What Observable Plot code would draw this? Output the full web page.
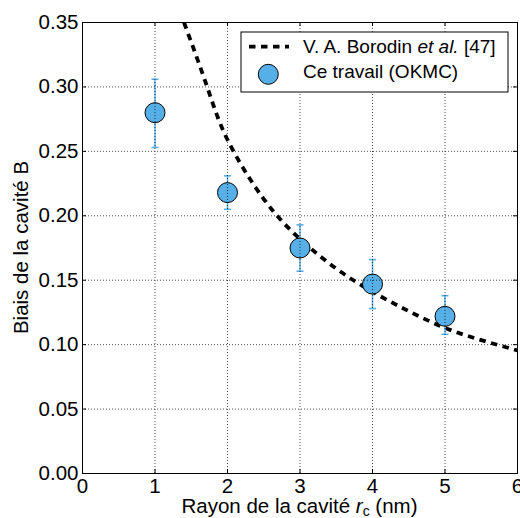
<!DOCTYPE html>
<html>
<head>
<meta charset="utf-8">
<script src="https://cdn.jsdelivr.net/npm/d3@7"></script>
<script src="https://cdn.jsdelivr.net/npm/@observablehq/plot@0.6"></script>
<style>
  html, body { margin: 0; padding: 0; background: white; }
</style>
</head>
<body>
<div id="chart"></div>
<script>
// ---- data ----
const xTicks = [0, 1, 2, 3, 4, 5, 6];
const yTicks = [0, 0.05, 0.10, 0.15, 0.20, 0.25, 0.30, 0.35];

// Ce travail (OKMC)
const radius = [1, 2, 3, 4, 5];
const bias = [0.280, 0.218, 0.175, 0.147, 0.122];
const biasLow = [0.253, 0.205, 0.157, 0.128, 0.108];
const biasHigh = [0.306, 0.231, 0.193, 0.166, 0.138];

// V. A. Borodin et al. [47]
const curveR = [1.40, 1.72, 2.0, 2.5, 3.0, 3.5, 4.0, 4.5, 5.0, 5.5, 6.0];
const curveB = [0.350, 0.300, 0.259, 0.213, 0.182, 0.159, 0.141, 0.126, 0.113, 0.1035, 0.0955];

const legendLabels = ["V. A. Borodin ", "et al.", " [47]", "Ce travail (OKMC)"];

// ---- build tables ----
const points = radius.map((r, i) => ({r, b: bias[i], lo: biasLow[i], hi: biasHigh[i]}));
const curve = curveR.map((r, i) => ({r, b: curveB[i]}));

const blue = "#56AFE6";
const font = "'Liberation Sans', Arial, Helvetica, sans-serif";
const W = 520, H = 518, mL = 82, mR = 3, mT = 22, mB = 45;
const innerW = W - mL - mR, innerH = H - mT - mB;

const capSymbol = {
  draw(ctx) { ctx.moveTo(-3.5, 0); ctx.lineTo(3.5, 0); }
};

const gridStyle = {stroke: "black", strokeOpacity: 0.7, strokeWidth: 1, strokeDasharray: "1,2"};

const chart = Plot.plot({
  width: W, height: H,
  marginLeft: mL, marginRight: mR, marginTop: mT, marginBottom: mB,
  style: {fontFamily: font, fontSize: "20.5px", color: "black", background: "white", overflow: "visible"},
  x: {domain: [0, 6]},
  y: {domain: [0, 0.35]},
  marks: [
    Plot.line(curve, {x: "r", y: "b", stroke: "black", strokeWidth: 3.8, strokeDasharray: "6.5,5.5", strokeLinecap: "butt", curve: "natural", clip: true}),
    Plot.ruleX(points, {x: "r", y1: "lo", y2: "hi", stroke: blue, strokeWidth: 1.5}),
    Plot.dot(points, {x: "r", y: "lo", symbol: capSymbol, stroke: blue, strokeWidth: 1.6}),
    Plot.dot(points, {x: "r", y: "hi", symbol: capSymbol, stroke: blue, strokeWidth: 1.6}),
    Plot.dot(points, {x: "r", y: "b", r: 10, fill: blue, stroke: "black", strokeWidth: 1}),
    Plot.gridX(xTicks.slice(1, -1), gridStyle),
    Plot.gridY(yTicks.slice(1, -1), gridStyle),
    Plot.tickX(xTicks.slice(1, -1), {x: d => d, insetTop: innerH - 4, stroke: "black"}),
    Plot.tickX(xTicks.slice(1, -1), {x: d => d, insetBottom: innerH - 4, stroke: "black"}),
    Plot.tickY(yTicks.slice(1, -1), {y: d => d, insetRight: innerW - 4, stroke: "black"}),
    Plot.tickY(yTicks.slice(1, -1), {y: d => d, insetLeft: innerW - 4, stroke: "black"}),
    Plot.frame({stroke: "black", strokeWidth: 1}),
    Plot.axisX({ticks: xTicks, tickSize: 0, tickPadding: 5, label: null, tickFormat: d3.format("d")}),
    Plot.axisY({ticks: yTicks, tickSize: 0, tickPadding: 4, label: null, tickFormat: d3.format(".2f")})
  ]
});

document.getElementById("chart").appendChild(chart);

const svg = d3.select(chart);
svg.style("overflow", "visible");

// x-axis label
const xl = svg.append("text")
  .attr("x", mL + innerW / 2).attr("y", 513)
  .attr("text-anchor", "middle")
  .attr("font-family", font).attr("font-size", 20.5).attr("fill", "black");
xl.append("tspan").text("Rayon de la cavité ");
xl.append("tspan").attr("font-style", "italic").text("r");
xl.append("tspan").attr("font-size", 14).attr("dy", 3).text("c");
xl.append("tspan").attr("dy", -3).text(" (nm)");

// y-axis label
svg.append("text")
  .attr("transform", `translate(28,${mT + innerH / 2}) rotate(-90)`)
  .attr("text-anchor", "middle")
  .attr("font-family", font).attr("font-size", 20.5).attr("fill", "black")
  .text("Biais de la cavité B");

// legend
const lg = svg.append("g").attr("text-anchor", "start");
lg.append("rect").attr("x", 241).attr("y", 32).attr("width", 267).attr("height", 60)
  .attr("fill", "white").attr("stroke", "black").attr("stroke-width", 1);
lg.append("line").attr("x1", 249).attr("x2", 289).attr("y1", 46.7).attr("y2", 46.7)
  .attr("stroke", "black").attr("stroke-width", 3.8).attr("stroke-dasharray", "6.5,5.5");
const t1 = lg.append("text").attr("x", 303).attr("y", 53).attr("text-anchor", "start")
  .attr("font-family", font).attr("font-size", 19).attr("fill", "black");
t1.append("tspan").text(legendLabels[0]);
t1.append("tspan").attr("font-style", "italic").text(legendLabels[1]);
t1.append("tspan").text(legendLabels[2]);
lg.append("circle").attr("cx", 268.3).attr("cy", 74.3).attr("r", 10)
  .attr("fill", blue).attr("stroke", "black").attr("stroke-width", 1);
lg.append("text").attr("x", 303).attr("y", 78).attr("text-anchor", "start")
  .attr("font-family", font).attr("font-size", 19).attr("fill", "black")
  .text(legendLabels[3]);
</script>
</body>
</html>
